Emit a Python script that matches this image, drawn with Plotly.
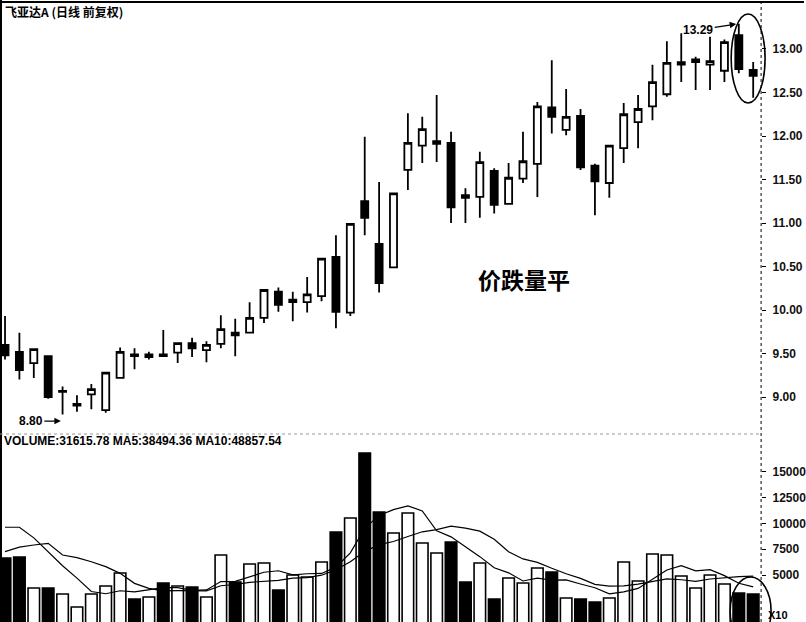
import plotly.graph_objects as go

# ---------------- data ----------------
opens = [9.60, 9.52, 9.39, 9.47, 9.06, 8.90, 9.03, 8.85, 9.22, 9.49,
         9.46, 9.49, 9.51, 9.62, 9.54, 9.61, 9.74, 9.74, 9.91, 10.21,
         10.09, 10.09, 10.16, 10.61, 9.97, 11.25, 10.76, 10.49, 11.61, 11.89,
         11.91, 11.92, 11.32, 11.30, 11.60, 11.22, 11.51, 11.68, 12.33, 12.07,
         12.23, 11.66, 11.46, 11.86, 12.16, 12.34, 12.48, 12.82, 12.85, 12.82,
         12.75, 13.16, 12.76]
highs = [9.93, 9.74, 9.56, 9.48, 9.12, 9.02, 9.15, 9.29, 9.57, 9.56,
         9.52, 9.77, 9.63, 9.68, 9.64, 9.94, 9.90, 10.09, 10.24, 10.26,
         10.21, 10.38, 10.60, 10.86, 11.00, 11.99, 11.47, 11.35, 12.26, 12.22,
         12.47, 12.05, 11.40, 11.82, 11.63, 11.69, 12.05, 12.39, 12.87, 12.54,
         12.31, 11.68, 11.90, 12.38, 12.47, 12.82, 13.09, 13.18, 12.91, 13.14,
         13.11, 13.29, 12.85]
lows = [9.43, 9.20, 9.22, 8.98, 8.80, 8.83, 8.86, 8.82, 9.21, 9.32,
        9.43, 9.47, 9.39, 9.46, 9.40, 9.56, 9.47, 9.73, 9.85, 9.98,
        9.87, 9.97, 10.10, 9.79, 9.93, 10.86, 10.20, 10.48, 11.38, 11.69,
        11.70, 11.00, 11.00, 11.06, 11.11, 11.21, 11.46, 11.30, 12.03, 12.01,
        11.61, 11.09, 11.29, 11.69, 11.86, 12.18, 12.45, 12.62, 12.53, 12.53,
        12.62, 12.72, 12.44]
closes = [9.48, 9.31, 9.55, 9.00, 9.07, 8.92, 9.09, 9.28, 9.52, 9.47,
          9.49, 9.47, 9.62, 9.56, 9.60, 9.78, 9.71, 9.91, 10.23, 10.06,
          10.12, 10.18, 10.59, 9.98, 10.99, 11.06, 10.31, 11.34, 11.92, 12.08,
          11.94, 11.18, 11.29, 11.70, 11.21, 11.52, 11.71, 12.34, 12.22, 12.22,
          11.64, 11.48, 11.89, 12.25, 12.31, 12.62, 12.84, 12.85, 12.88, 12.86,
          13.08, 12.77, 12.69]

volume = [6650, 6750, 3740, 3740, 3160, 1900, 3160, 3930, 5190, 2670,
          2870, 4220, 3930, 3840, 2870, 6940, 4320, 6070, 6160, 3545,
          5000, 4800, 6260, 9170, 10530, 16830, 11110, 9070, 11010, 8100,
          7130, 8200, 4320, 6160, 2670, 4710, 4220, 5680, 5290, 2770,
          2670, 2380, 2770, 6260, 4420, 7040, 6940, 4900, 3740, 5000,
          4130, 3250, 3160]
ma5 = [9630, 9630, 8600, 7200, 5900, 4700, 3400, 3180, 3470, 3370,
       3560, 3780, 3780, 3510, 3550, 4360, 4380, 4810, 5270, 5410,
       5020, 5120, 5150, 5760, 7150, 9520, 10780, 11340, 11710, 11220,
       9280, 8700, 7750, 6780, 5700, 5210, 4420, 4690, 4510, 4530,
       4130, 3760, 3180, 3370, 3700, 4570, 5490, 5910, 5410, 5520,
       4940, 4200, 3850]
ma10 = [7265, 7700, 7910, 8070, 6940, 6680, 6290, 5810, 5160, 4190,
        3710, 3460, 3480, 3490, 3460, 3960, 4080, 4290, 4390, 4480,
        4690, 4750, 4980, 5510, 6280, 7270, 7950, 8250, 8730, 9190,
        9400, 9740, 9550, 9250, 8460, 7250, 6560, 6220, 5650, 5120,
        4670, 4090, 3930, 3940, 4120, 4350, 4620, 4540, 4390, 4610,
        4760, 4850, 4890]

price_ticks = [9.0, 9.5, 10.0, 10.5, 11.0, 11.5, 12.0, 12.5, 13.0]
price_tick_labels = ["9.00", "9.50", "10.00", "10.50", "11.00", "11.50", "12.00", "12.50", "13.00"]
vol_ticks = [5000, 7500, 10000, 12500, 15000]
vol_tick_labels = ["5000", "7500", "10000", "12500", "15000"]

title_text = "飞亚达A (日线 前复权)"
vol_text = "VOLUME:31615.78 MA5:38494.36 MA10:48857.54"
note_text = "价跌量平"

# ---------------- figure ----------------
idx = list(range(len(opens)))
bar_colors = ["white" if c >= o else "black" for o, c in zip(opens, closes)]

fig = go.Figure()
fig.add_trace(go.Candlestick(
    x=idx, open=opens, high=highs, low=lows, close=closes,
    increasing=dict(line=dict(color="black", width=1.8), fillcolor="white"),
    decreasing=dict(line=dict(color="black", width=1.8), fillcolor="black"),
    whiskerwidth=0, xaxis="x", yaxis="y", showlegend=False, hoverinfo="skip"))
fig.add_trace(go.Bar(
    x=idx, y=volume, width=0.8,
    marker=dict(color=bar_colors, line=dict(color="black", width=1.6)),
    xaxis="x2", yaxis="y2", showlegend=False, hoverinfo="skip"))
fig.add_trace(go.Scatter(x=idx, y=ma5, mode="lines", line=dict(color="black", width=1.2),
                         xaxis="x2", yaxis="y2", showlegend=False, hoverinfo="skip"))
fig.add_trace(go.Scatter(x=idx, y=ma10, mode="lines", line=dict(color="black", width=1.2),
                         xaxis="x2", yaxis="y2", showlegend=False, hoverinfo="skip"))

XDOM = [2 / 806, 763 / 806]
XRANGE = [-0.21, 52.55]
tickfont = dict(family="Liberation Sans, Arial", size=12, color="#111", weight="bold")

fig.update_layout(
    width=806, height=622,
    margin=dict(l=0, r=0, t=0, b=0),
    paper_bgcolor="white", plot_bgcolor="white",
    showlegend=False, boxgap=0.3,
    xaxis=dict(domain=XDOM, range=XRANGE, visible=False, anchor="y",
               rangeslider=dict(visible=False)),
    xaxis2=dict(domain=XDOM, range=XRANGE, visible=False, anchor="y2"),
    yaxis=dict(domain=[1 - 430 / 622, 1], range=[8.621, 13.563], side="right",
               tickvals=price_ticks, ticktext=price_tick_labels,
               ticks="outside", ticklen=4, tickcolor="black", tickwidth=1,
               ticklabelstandoff=4, showgrid=False, zeroline=False, showline=False,
               tickfont=tickfont, anchor="x"),
    yaxis2=dict(domain=[0, 1 - 435 / 622], range=[441, 18580], side="right",
                tickvals=vol_ticks, ticktext=vol_tick_labels,
                ticks="outside", ticklen=4, tickcolor="black", tickwidth=1,
                ticklabelstandoff=4, showgrid=False, zeroline=False, showline=False,
                tickfont=tickfont, anchor="x2"),
)

shapes = [
    # dotted right axis line
    dict(type="line", xref="paper", yref="paper", x0=763 / 806, x1=763 / 806, y0=0, y1=1,
         line=dict(color="black", width=1, dash="dot")),
    # top border
    dict(type="line", xref="paper", yref="paper", x0=0, x1=1, y0=1 - 2 / 622, y1=1 - 2 / 622,
         line=dict(color="black", width=2)),
    # left border
    dict(type="line", xref="paper", yref="paper", x0=1 / 806, x1=1 / 806, y0=0, y1=1,
         line=dict(color="black", width=2)),
    # volume panel top separator
    dict(type="line", xref="paper", yref="paper", x0=0, x1=763 / 806, y0=1 - 434 / 622, y1=1 - 434 / 622,
         line=dict(color="#999", width=1, dash="dot")),
    # ellipse in price panel
    dict(type="circle", xref="paper", yref="paper", x0=733 / 806, x1=767 / 806,
         y0=1 - 103 / 622, y1=1 - 14 / 622, line=dict(color="black", width=1.6)),
    # ellipse in volume panel
    dict(type="circle", xref="paper", yref="paper", x0=732 / 806, x1=773 / 806,
         y0=1 - 645 / 622, y1=1 - 577 / 622, line=dict(color="black", width=1.6)),
]
fig.update_layout(shapes=shapes)

annotations = [
    dict(text=title_text, xref="paper", yref="paper", x=3 / 806, y=1 - 11 / 622,
         xanchor="left", yanchor="middle", showarrow=False,
         font=dict(family="Noto Sans CJK SC", size=12, color="black", weight="bold")),
    dict(text=vol_text, xref="paper", yref="paper", x=2 / 806, y=1 - 441 / 622,
         xanchor="left", yanchor="middle", showarrow=False,
         font=dict(family="Liberation Sans, Arial", size=12, color="black", weight="bold")),
    dict(text=note_text, xref="paper", yref="paper", x=525 / 806, y=1 - 279 / 622,
         xanchor="center", yanchor="middle", showarrow=False,
         font=dict(family="Noto Sans CJK SC", size=23, color="black", weight="bold")),
    dict(text="X10", xref="paper", yref="paper", x=768 / 806, y=1 - 607 / 622,
         xanchor="left", yanchor="top", showarrow=False,
         font=dict(family="Liberation Sans, Arial", size=11, color="black", weight="bold")),
    dict(text="8.80", xref="x", yref="y", x=3.88, y=8.724, ax=-30, ay=0,
         showarrow=True, arrowhead=2, arrowsize=1, arrowwidth=1.3, arrowcolor="black",
         font=dict(family="Liberation Sans, Arial", size=12, color="black", weight="bold")),
    dict(text="13.29", xref="x", yref="y", x=50.82, y=13.287, ax=-38, ay=6,
         showarrow=True, arrowhead=2, arrowsize=1, arrowwidth=1.3, arrowcolor="black",
         font=dict(family="Liberation Sans, Arial", size=12, color="black", weight="bold")),
]
fig.update_layout(annotations=annotations)

fig.write_html("out.html",
               config={"displayModeBar": False, "staticPlot": True},
               post_script="document.body.style.margin='0';document.body.style.overflow='hidden';")
